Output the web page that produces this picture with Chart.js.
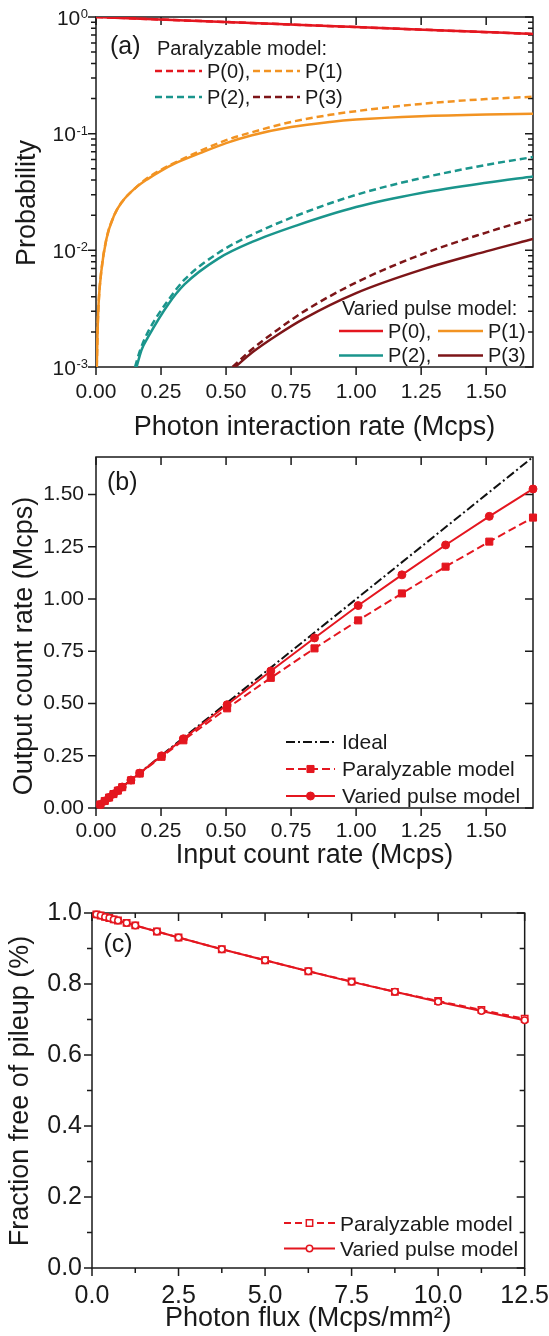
<!DOCTYPE html>
<html>
<head>
<meta charset="utf-8">
<script src="https://cdn.jsdelivr.net/npm/chart.js"></script>
<style>
    body { margin: 0; background: #fff; }
    #page { position: relative; width: 549px; height: 1336px; background: #fff; }
    canvas { position: absolute; left: 0; }
</style>
</head>
<body>
<div id="page">
    <canvas id="panelA" width="549" height="450" style="top:0px"></canvas>
    <canvas id="panelB" width="549" height="440" style="top:440px"></canvas>
    <canvas id="panelC" width="549" height="456" style="top:880px"></canvas>
</div>
<script>
// (a) probabilities vs photon interaction rate (Mcps)
const rateP0 = [0, 0.42, 0.84, 1.26, 1.68];
const parP0 = [1, 0.92, 0.846, 0.778, 0.716];
const varP0 = [1, 0.92, 0.846, 0.778, 0.716];

const rateP1 = [0.003, 0.006, 0.01, 0.02, 0.04, 0.07, 0.1, 0.15, 0.2, 0.25, 0.3, 0.4, 0.5, 0.6, 0.75, 0.9, 1.0, 1.25, 1.5, 1.68];
const parP1 = [0.001, 0.002, 0.0035, 0.0065, 0.0125, 0.02, 0.026, 0.034, 0.042, 0.049, 0.056, 0.071, 0.088, 0.103, 0.126, 0.145, 0.156, 0.18, 0.198, 0.207];
const varP1 = [0.001, 0.002, 0.0035, 0.0065, 0.0125, 0.02, 0.026, 0.034, 0.041, 0.048, 0.055, 0.068, 0.083, 0.097, 0.114, 0.126, 0.132, 0.141, 0.146, 0.148];

const rateP2par = [0.15, 0.17, 0.2, 0.28, 0.34, 0.47, 0.6, 0.77, 1.0, 1.25, 1.5, 1.68];
const parP2 = [0.001, 0.0014, 0.002, 0.0038, 0.0056, 0.0095, 0.0136, 0.0198, 0.0299, 0.0416, 0.054, 0.063];
const rateP2var = [0.156, 0.175, 0.2, 0.28, 0.34, 0.47, 0.6, 0.77, 1.0, 1.25, 1.5, 1.68];
const varP2 = [0.001, 0.0014, 0.0018, 0.0035, 0.0051, 0.0085, 0.0118, 0.0163, 0.0235, 0.031, 0.038, 0.043];

const rateP3par = [0.525, 0.6, 0.7, 0.8, 1.0, 1.25, 1.5, 1.68];
const parP3 = [0.001, 0.00142, 0.0021, 0.003, 0.0053, 0.0092, 0.0142, 0.0188];
const rateP3var = [0.535, 0.6, 0.7, 0.8, 1.0, 1.25, 1.5, 1.68];
const varP3 = [0.001, 0.00133, 0.0019, 0.0026, 0.0043, 0.0068, 0.0098, 0.0125];

// (b) output vs input count rate (Mcps)
const inputRate = [0.0168, 0.0336, 0.0504, 0.0672, 0.084, 0.1008, 0.1344, 0.168, 0.252, 0.336, 0.504, 0.672, 0.84, 1.008, 1.176, 1.344, 1.512, 1.68];
const outPar = [0.0168, 0.0335, 0.0501, 0.0667, 0.0832, 0.0997, 0.1324, 0.1649, 0.245, 0.324, 0.477, 0.623, 0.764, 0.898, 1.027, 1.155, 1.275, 1.39];
const outVar = [0.0168, 0.0336, 0.0503, 0.0671, 0.0838, 0.1005, 0.1338, 0.167, 0.2495, 0.3315, 0.4945, 0.656, 0.814, 0.969, 1.116, 1.259, 1.396, 1.527];
const idealRate = [0, 1.68];

// (c) fraction free of pileup vs photon flux (Mcps/mm2)
const photonFlux = [0.125, 0.25, 0.375, 0.5, 0.625, 0.75, 1, 1.25, 1.875, 2.5, 3.75, 5, 6.25, 7.5, 8.75, 10, 11.25, 12.5];
const freePar = [0.996, 0.993, 0.989, 0.986, 0.982, 0.979, 0.972, 0.965, 0.948, 0.931, 0.898, 0.867, 0.836, 0.807, 0.778, 0.752, 0.727, 0.702];
const freeVar = [0.996, 0.993, 0.989, 0.986, 0.982, 0.979, 0.972, 0.965, 0.948, 0.931, 0.898, 0.867, 0.836, 0.806, 0.778, 0.75, 0.724, 0.698];

// tick values
const rateTicks = [0, 0.25, 0.5, 0.75, 1, 1.25, 1.5];
const probTicks = [1, 0.1, 0.01, 0.001];
const probTickExp = ['0', '-1', '-2', '-3'];
const probMinor = [0.002, 0.003, 0.004, 0.005, 0.006, 0.007, 0.008, 0.009,
    0.02, 0.03, 0.04, 0.05, 0.06, 0.07, 0.08, 0.09,
    0.2, 0.3, 0.4, 0.5, 0.6, 0.7, 0.8, 0.9];
const fluxTicks = [0, 2.5, 5, 7.5, 10, 12.5];
const fluxMinor = [1.25, 3.75, 6.25, 8.75, 11.25];
const fracTicks = [0, 0.2, 0.4, 0.6, 0.8, 1];
const fracMinor = [0.1, 0.3, 0.5, 0.7, 0.9];

const FONT = '"Liberation Sans", Arial, sans-serif';
const INK = '#1a1a1a';
const RED = '#e4161f';
const ORANGE = '#f29322';
const TEAL = '#1a958c';
const MAROON = '#7d1518';

const pts = (xs, ys) => xs.map((x, i) => ({ x, y: ys[i] }));

function drawMarker(ctx, ds, x, y) {
    const r = ds.pointRadius;
    ctx.beginPath();
    if (ds.pointStyle === 'rect') {
        const h = r * Math.SQRT1_2;
        ctx.rect(x - h, y - h, 2 * h, 2 * h);
    } else {
        ctx.arc(x, y, r, 0, Math.PI * 2);
    }
    ctx.setLineDash([]);
    ctx.fillStyle = ds.pointBackgroundColor;
    ctx.fill();
    ctx.lineWidth = ds.pointBorderWidth;
    ctx.strokeStyle = ds.pointBorderColor;
    ctx.stroke();
}

// frame with mirrored ticks, panel tag, y title, legend
const panelDecor = {
    id: 'panelDecor',
    beforeDatasetsDraw(chart, args, o) {
        const { ctx, chartArea: a } = chart;
        const { x, y } = chart.scales;
        ctx.save();
        ctx.strokeStyle = INK;
        ctx.lineWidth = 1.5;
        ctx.strokeRect(a.left, a.top, a.right - a.left, a.bottom - a.top);
        const marks = (scale, values, len) => {
            ctx.beginPath();
            values.forEach(v => {
                const p = scale.getPixelForValue(v);
                if (scale.isHorizontal()) {
                    ctx.moveTo(p, a.bottom); ctx.lineTo(p, a.bottom + len);
                    ctx.moveTo(p, a.top); ctx.lineTo(p, a.top + len);
                } else {
                    ctx.moveTo(a.left, p); ctx.lineTo(a.left - len, p);
                    ctx.moveTo(a.right, p); ctx.lineTo(a.right - len, p);
                }
            });
            ctx.stroke();
        };
        marks(x, o.xMajor, 8);
        marks(x, o.xMinor || [], 5);
        marks(y, o.yMajor, 8);
        marks(y, o.yMinor || [], 5);
        ctx.restore();
    },
    afterDraw(chart, args, o) {
        const { ctx } = chart;
        const datasets = chart.data.datasets;
        ctx.save();
        ctx.fillStyle = INK;
        ctx.textBaseline = 'alphabetic';

        ctx.font = `25px ${FONT}`;
        ctx.fillText(o.tag.text, o.tag.x, o.tag.y);

        if (o.logLabels) {
            const y = chart.scales.y;
            const L = o.logLabels;
            L.values.forEach((v, i) => {
                const p = y.getPixelForValue(v);
                ctx.textAlign = 'right';
                ctx.font = `13px ${FONT}`;
                const supW = ctx.measureText(L.exps[i]).width;
                ctx.fillText(L.exps[i], L.right, p + 1);
                ctx.font = `21px ${FONT}`;
                ctx.fillText('10', L.right - supW - 0.5, p + 7.5);
            });
            ctx.textAlign = 'left';
        }

        ctx.save();
        ctx.translate(o.yTitle.x, o.yTitle.y);
        ctx.rotate(-Math.PI / 2);
        ctx.textAlign = 'center';
        ctx.textBaseline = 'middle';
        ctx.font = `27px ${FONT}`;
        ctx.fillText(o.yTitle.text, 0, 0);
        ctx.restore();

        const lg = o.legend;
        ctx.font = `${lg.size}px ${FONT}`;
        (lg.titles || []).forEach(t => ctx.fillText(t.text, t.x, t.y));
        lg.items.forEach(it => {
            const ds = datasets[it.ds];
            ctx.save();
            ctx.strokeStyle = ds.borderColor;
            ctx.lineWidth = ds.borderWidth;
            ctx.setLineDash(ds.borderDash || []);
            ctx.beginPath();
            ctx.moveTo(it.x0, it.y);
            ctx.lineTo(it.x1, it.y);
            ctx.stroke();
            if (ds.pointRadius > 0) drawMarker(ctx, ds, (it.x0 + it.x1) / 2, it.y);
            ctx.restore();
            ctx.fillStyle = INK;
            ctx.fillText(ds.label + (it.sep || ''), it.tx, it.ty);
        });
        ctx.restore();
    }
};

// the label gap goes through tickLength (grid hidden) so it does not widen the layout padding
function xAxis(o) {
    return {
        type: 'linear',
        min: o.min,
        max: o.max,
        afterBuildTicks: s => { s.ticks = o.ticks.map(value => ({ value })); },
        afterFit: s => { s.height = o.height; },
        grid: { display: false, drawTicks: true, tickLength: o.pad },
        border: { display: false },
        ticks: {
            padding: 0,
            color: INK,
            font: { family: FONT, size: o.size },
            callback: v => v.toFixed(o.digits)
        },
        title: {
            display: true,
            text: o.title,
            color: INK,
            font: { family: FONT, size: 27 },
            padding: { top: 0, bottom: o.titlePad }
        }
    };
}

function yAxis(o) {
    return {
        type: o.type || 'linear',
        min: o.min,
        max: o.max,
        afterBuildTicks: s => { s.ticks = o.ticks.map(value => ({ value })); },
        afterFit: s => { s.width = o.width; },
        grid: { display: false, drawTicks: true, tickLength: o.pad || 0 },
        border: { display: false },
        ticks: {
            display: o.showLabels !== false,
            padding: 0,
            color: INK,
            font: { family: FONT, size: o.size },
            callback: v => v.toFixed(o.digits)
        },
        title: { display: false }
    };
}

function curve(label, xs, ys, color, dashed) {
    return {
        label,
        data: pts(xs, ys),
        borderColor: color,
        borderWidth: 2.5,
        borderDash: dashed ? [7, 4] : [],
        pointRadius: 0,
        cubicInterpolationMode: 'monotone'
    };
}

const baseOptions = {
    responsive: false,
    animation: false,
    events: []
};

// panel (a)
new Chart(document.getElementById('panelA'), {
    type: 'line',
    plugins: [panelDecor],
    data: {
        datasets: [
            curve('P(0)', rateP0, varP0, RED, false),
            curve('P(1)', rateP1, varP1, ORANGE, false),
            curve('P(2)', rateP2var, varP2, TEAL, false),
            curve('P(3)', rateP3var, varP3, MAROON, false),
            curve('P(0)', rateP0, parP0, RED, true),
            curve('P(1)', rateP1, parP1, ORANGE, true),
            curve('P(2)', rateP2par, parP2, TEAL, true),
            curve('P(3)', rateP3par, parP3, MAROON, true)
        ]
    },
    options: {
        ...baseOptions,
        layout: { padding: { left: 0, right: 16, top: 17, bottom: 0 } },
        scales: {
            x: xAxis({ min: 0, max: 1.68, ticks: rateTicks, height: 83, pad: 13, size: 21, digits: 2,
                title: 'Photon interaction rate (Mcps)', titlePad: 6 }),
            y: yAxis({ type: 'logarithmic', min: 0.001, max: 1, ticks: probTicks, width: 96, showLabels: false })
        },
        plugins: {
            legend: { display: false },
            tooltip: { enabled: false },
            panelDecor: {
                xMajor: rateTicks,
                yMajor: probTicks,
                yMinor: probMinor,
                logLabels: { values: probTicks, exps: probTickExp, right: 88 },
                tag: { text: '(a)', x: 110, y: 54 },
                yTitle: { text: 'Probability', x: 28, y: 203 },
                legend: {
                    size: 20,
                    titles: [
                        { text: 'Paralyzable model:', x: 157, y: 55 },
                        { text: 'Varied pulse model:', x: 342, y: 315 }
                    ],
                    items: [
                        { ds: 4, x0: 155, x1: 202, y: 71, tx: 207, ty: 78, sep: ',' },
                        { ds: 5, x0: 253, x1: 300, y: 71, tx: 305, ty: 78 },
                        { ds: 6, x0: 155, x1: 202, y: 97, tx: 207, ty: 103.5, sep: ',' },
                        { ds: 7, x0: 253, x1: 300, y: 97, tx: 305, ty: 103.5 },
                        { ds: 0, x0: 339, x1: 383, y: 331, tx: 388, ty: 337.5, sep: ',' },
                        { ds: 1, x0: 438, x1: 483, y: 331, tx: 488, ty: 337.5 },
                        { ds: 2, x0: 339, x1: 383, y: 355.5, tx: 388, ty: 362, sep: ',' },
                        { ds: 3, x0: 438, x1: 483, y: 355.5, tx: 488, ty: 362 }
                    ]
                }
            }
        }
    }
});

// panel (b)
new Chart(document.getElementById('panelB'), {
    type: 'line',
    plugins: [panelDecor],
    data: {
        datasets: [
            {
                label: 'Varied pulse model',
                data: pts(inputRate, outVar),
                borderColor: RED, borderWidth: 2,
                pointStyle: 'circle', pointRadius: 4, pointBorderWidth: 1,
                pointBackgroundColor: RED, pointBorderColor: RED,
                clip: false
            },
            {
                label: 'Paralyzable model',
                data: pts(inputRate, outPar),
                borderColor: RED, borderWidth: 2, borderDash: [8, 4],
                pointStyle: 'rect', pointRadius: 5, pointBorderWidth: 1,
                pointBackgroundColor: RED, pointBorderColor: RED,
                clip: false
            },
            {
                label: 'Ideal',
                data: pts(idealRate, idealRate),
                borderColor: '#111', borderWidth: 2, borderDash: [9, 3, 2, 3],
                pointRadius: 0
            }
        ]
    },
    options: {
        ...baseOptions,
        layout: { padding: { left: 0, right: 16, top: 17, bottom: 0 } },
        scales: {
            x: xAxis({ min: 0, max: 1.68, ticks: rateTicks, height: 72, pad: 11, size: 21, digits: 2,
                title: 'Input count rate (Mcps)', titlePad: 8 }),
            y: yAxis({ min: 0, max: 1.68, ticks: rateTicks, width: 96, pad: 12, size: 21, digits: 2 })
        },
        plugins: {
            legend: { display: false },
            tooltip: { enabled: false },
            panelDecor: {
                xMajor: rateTicks,
                yMajor: rateTicks,
                tag: { text: '(b)', x: 107, y: 50 },
                yTitle: { text: 'Output count rate (Mcps)', x: 24.5, y: 206 },
                legend: {
                    size: 21,
                    items: [
                        { ds: 2, x0: 286, x1: 335, y: 302, tx: 342, ty: 309 },
                        { ds: 1, x0: 286, x1: 335, y: 329, tx: 342, ty: 336 },
                        { ds: 0, x0: 286, x1: 335, y: 356, tx: 342, ty: 363 }
                    ]
                }
            }
        }
    }
});

// panel (c)
new Chart(document.getElementById('panelC'), {
    type: 'line',
    plugins: [panelDecor],
    data: {
        datasets: [
            {
                label: 'Varied pulse model',
                data: pts(photonFlux, freeVar),
                borderColor: RED, borderWidth: 2,
                pointStyle: 'circle', pointRadius: 3.2, pointBorderWidth: 1.5,
                pointBackgroundColor: '#fff', pointBorderColor: RED,
                clip: false
            },
            {
                label: 'Paralyzable model',
                data: pts(photonFlux, freePar),
                borderColor: RED, borderWidth: 2, borderDash: [7, 4],
                pointStyle: 'rect', pointRadius: 4.5, pointBorderWidth: 1.5,
                pointBackgroundColor: '#fff', pointBorderColor: RED,
                clip: false
            }
        ]
    },
    options: {
        ...baseOptions,
        layout: { padding: { left: 0, right: 23, top: 33, bottom: 0 } },
        scales: {
            x: xAxis({ min: 0, max: 12.5, ticks: fluxTicks, height: 68, pad: 13, size: 25, digits: 1,
                title: 'Photon flux (Mcps/mm²)', titlePad: 1 }),
            y: yAxis({ min: 0, max: 1, ticks: fracTicks, width: 92, pad: 10, size: 25, digits: 1 })
        },
        plugins: {
            legend: { display: false },
            tooltip: { enabled: false },
            panelDecor: {
                xMajor: fluxTicks,
                xMinor: fluxMinor,
                yMajor: fracTicks,
                yMinor: fracMinor,
                tag: { text: '(c)', x: 103.5, y: 72 },
                yTitle: { text: 'Fraction free of pileup (%)', x: 21, y: 211 },
                legend: {
                    size: 21,
                    items: [
                        { ds: 1, x0: 284, x1: 335, y: 343, tx: 340, ty: 350.5 },
                        { ds: 0, x0: 284, x1: 335, y: 368.5, tx: 340, ty: 376 }
                    ]
                }
            }
        }
    }
});
</script>
</body>
</html>
